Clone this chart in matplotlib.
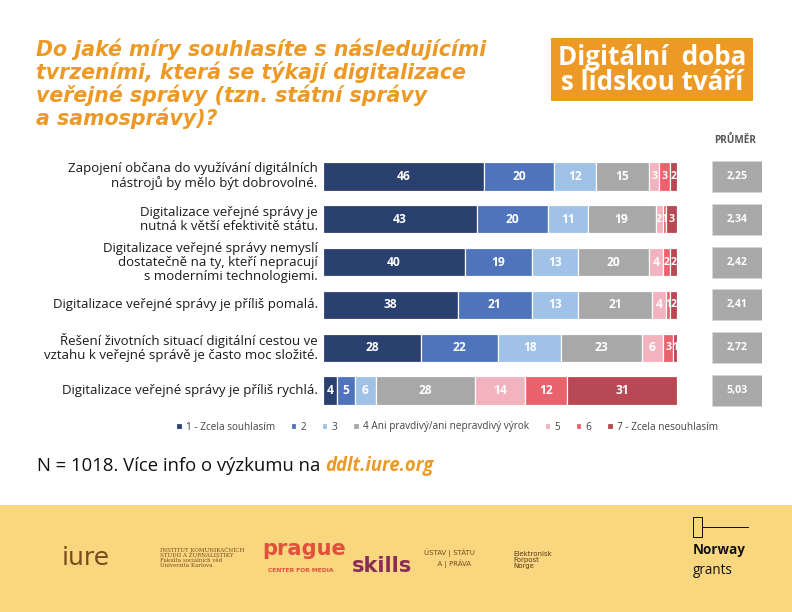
import numpy as np
import matplotlib.pyplot as plt
from matplotlib.patches import Rectangle
from matplotlib.lines import Line2D

# data
statements = [
    "Zapojení občana do využívání digitálních\nnástrojů by mělo být dobrovolné.",
    "Digitalizace veřejné správy je\nnutná k větší efektivitě státu.",
    "Digitalizace veřejné správy nemyslí\ndostatečně na ty, kteří nepracují\ns moderními technologiemi.",
    "Digitalizace veřejné správy je příliš pomalá.",
    "Řešení životních situací digitální cestou ve\nvztahu k veřejné správě je často moc složité.",
    "Digitalizace veřejné správy je příliš rychlá.",
]
legend_labels = ["1 - Zcela souhlasím", "2", "3", "4 Ani pravdivý/ani nepravdivý výrok",
                 "5", "6", "7 - Zcela nesouhlasím"]
shares = np.array([
    [46, 20, 12, 15, 3, 3, 2],
    [43, 20, 11, 19, 2, 1, 3],
    [40, 19, 13, 20, 4, 2, 2],
    [38, 21, 13, 21, 4, 1, 2],
    [28, 22, 18, 23, 6, 3, 1],
    [4, 5, 6, 28, 14, 12, 31],
])
averages = ["2,25", "2,34", "2,42", "2,41", "2,72", "5,03"]

colors = ["#2a406f", "#4f74bb", "#9fc2e6", "#a8a8a8", "#f2b3bf", "#e8636c", "#b84853"]
orange = "#ec9a25"

W, H = 792, 612
fig = plt.figure(figsize=(W / 72, H / 72), dpi=72)
fig.patch.set_facecolor("white")

def fx(px):
    return px / W

def fy(py):
    return 1 - py / H

# bars (100 % stacked, rounded labels)
ax = fig.add_axes([fx(323), fy(412), fx(677) - fx(323), fy(155) - fy(412)])
y = np.arange(len(statements))
widths = shares / shares.sum(axis=1, keepdims=True) * 100
left = np.zeros(len(statements))
for j in range(shares.shape[1]):
    ax.barh(y, widths[:, j], left=left, height=0.66, color=colors[j],
            edgecolor="white", linewidth=1.2, label=legend_labels[j])
    for i in range(len(statements)):
        v = shares[i, j]
        fs = 12 if v >= 4 else 10.5
        ax.text(left[i] + widths[i, j] / 2, y[i], str(v), ha="center", va="center",
                color="white", fontsize=fs, fontweight="bold", family="Open Sans")
    left += widths[:, j]
ax.set_xlim(0, 100)
ax.set_ylim(len(statements) - 0.5, -0.5)
ax.axis("off")
for i, s in enumerate(statements):
    ax.text(-1.5, y[i], s, ha="right", va="center", fontsize=13.3, color="#1a1a1a",
            family="Open Sans", linespacing=1.1)

# averages
ax2 = fig.add_axes([fx(712), fy(412), fx(762) - fx(712), fy(155) - fy(412)])
ax2.barh(y, [1] * len(y), height=0.72, color="#a9a9a9", edgecolor="#d8d8d8", linewidth=0.8)
for i, a in enumerate(averages):
    ax2.text(0.5, y[i], a, ha="center", va="center", color="white", fontsize=10.5,
             fontweight="bold", family="Open Sans")
ax2.set_xlim(0, 1)
ax2.set_ylim(len(statements) - 0.5, -0.5)
ax2.axis("off")
fig.text(fx(735), fy(140), "PRŮMĚR", ha="center", va="center", fontsize=10,
         fontweight="bold", color="#555555", family="Open Sans")

# legend
handles, labels = ax.get_legend_handles_labels()
leg = fig.legend(handles, labels, loc="center", bbox_to_anchor=(fx(447), fy(427)),
                 ncol=7, frameon=False, handlelength=0.55, handleheight=0.55,
                 columnspacing=1.6, handletextpad=0.4, prop={"family": "Open Sans", "size": 10})
for t in leg.get_texts():
    t.set_color("#444444")

# title
title = ("Do jaké míry souhlasíte s následujícími\ntvrzeními, která se týkají digitalizace\n"
         "veřejné správy (tzn. státní správy\na samosprávy)?")
fig.text(fx(36), fy(38), title, ha="left", va="top", fontsize=20.5, fontweight="bold",
         style="italic", color=orange, family="DejaVu Sans", linespacing=1.08)

# top-right badge
fig.patches.append(Rectangle((fx(551), fy(100)), fx(752) - fx(551), fy(38) - fy(100),
                             transform=fig.transFigure, color=orange, zorder=0))
fig.text(fx(652), fy(70), "Digitální  doba\ns lidskou tváří", ha="center", va="center",
         fontsize=26, fontweight="bold", color="white", family="Open Sans", linespacing=0.95)

# footnote
fig.canvas.draw()
note = fig.text(fx(37), fy(466), "N = 1018. Více info o výzkumu na ", ha="left", va="center",
                fontsize=18.5, color="#111111", family="Open Sans")
bb = note.get_window_extent(renderer=fig.canvas.get_renderer())
fig.text(bb.x1 / W, fy(466), "ddlt.iure.org", ha="left", va="center", fontsize=18.5,
         fontweight="bold", style="italic", color=orange, family="Open Sans")

# bottom band with partner names
fig.patches.append(Rectangle((0, 0), 1, fy(505), transform=fig.transFigure,
                             color="#f8d77f", zorder=0))
fig.text(fx(62), fy(558), "iure", ha="left", va="center", fontsize=25, color="#7a4a1e",
         family="DejaVu Sans")
fig.text(fx(160), fy(558), "INSTITUT KOMUNIKAČNÍCH\nSTUDIÍ A ŽURNALISTIKY\nFakulta sociálních věd\nUniverzita Karlova",
         ha="left", va="center", fontsize=5.5, color="#7a4a1e", family="DejaVu Serif",
         linespacing=1.0)
fig.text(fx(262), fy(549), "prague", ha="left", va="center", fontsize=21, fontweight="bold",
         color="#e0503a", family="DejaVu Sans")
fig.text(fx(352), fy(566), "skills", ha="left", va="center", fontsize=21, fontweight="bold",
         color="#8a2c5a", family="DejaVu Sans")
fig.text(fx(268), fy(571), "CENTER FOR MEDIA", ha="left", va="center", fontsize=6,
         fontweight="bold", color="#e0503a", family="DejaVu Sans")
fig.text(fx(424), fy(558), "ÚSTAV | STÁTU\n      A | PRÁVA", ha="left", va="center",
         fontsize=7, color="#7a4a1e", family="DejaVu Sans", linespacing=1.4)
fig.text(fx(513), fy(560), "Elektronisk\nForpost\nNorge", ha="left", va="center",
         fontsize=7, color="#5a3a1e", family="DejaVu Sans", linespacing=1.0)
fig.add_artist(Line2D([fx(693), fx(693), fx(702), fx(702), fx(693)],
                      [fy(537), fy(517), fy(517), fy(537), fy(537)],
                      color="#111111", linewidth=1.0, transform=fig.transFigure))
fig.add_artist(Line2D([fx(702), fx(748)], [fy(527), fy(527)], color="#111111",
                      linewidth=1.0, transform=fig.transFigure))
fig.text(fx(693), fy(550), "Norway", ha="left", va="center", fontsize=13.5,
         fontweight="bold", color="#111111", family="Open Sans")
fig.text(fx(693), fy(570), "grants", ha="left", va="center", fontsize=13.5,
         color="#111111", family="Open Sans")

fig.savefig("out.png", dpi=72, facecolor=fig.get_facecolor())
